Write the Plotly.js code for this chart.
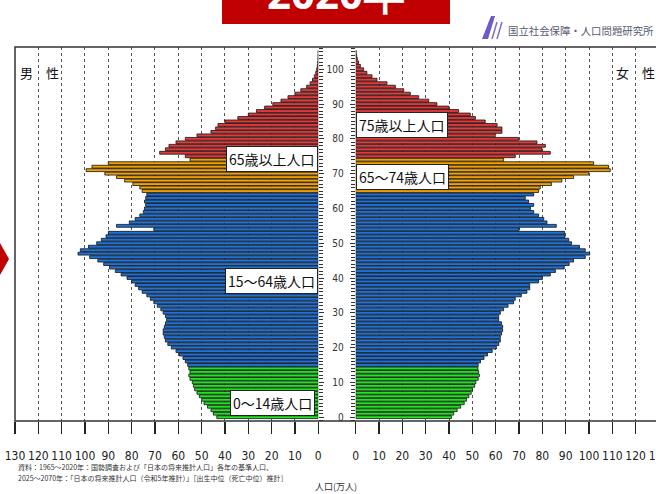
<!DOCTYPE html>
<html>
<head>
<meta charset="utf-8">
<script src="https://cdn.plot.ly/plotly-3.0.1.min.js"></script>
<style>
html,body{margin:0;padding:0;overflow:hidden;background:#fff;}
#chart{width:664px;height:494px;}
</style>
</head>
<body>
<div id="chart"></div>
<script>
// ---- data (万人) ----
const ages = [0,1,2,3,4,5,6,7,8,9,10,11,12,13,14,15,16,17,18,19,20,21,22,23,24,25,26,27,28,29,
30,31,32,33,34,35,36,37,38,39,40,41,42,43,44,45,46,47,48,49,50,51,52,53,54,55,56,57,58,59,
60,61,62,63,64,65,66,67,68,69,70,71,72,73,74,75,76,77,78,79,80,81,82,83,84,85,86,87,88,89,
90,91,92,93,94,95,96,97,98,99,100,101,102,103,104,105];

const male = [
43.5,45,46,47.5,49,50,51,52,53,53.5,
54,55,55.5,55,55.5,56,57,58,59.5,61,
63,64.5,65.5,66,66.5,66.5,66,65.5,65,65.5,
66.5,67.5,69,70.5,72,73.5,75.5,77,78.5,80,
82,84.5,87,89.5,92,94.5,98,103,102,98.5,
95,93,91,90,70.5,86.5,81,78.5,76.5,75,
74.5,74,74.5,74,73.5,75.5,76.5,79.5,83,86.5,
91.5,99.5,97,90,55,57,68,65.5,64,61,
57,52,46,44,43,40,34.5,30,26.5,23,
19.5,16,13,10,7.5,5,3.5,2.5,1.7,1.1,
0.7,0.4,0.25,0.15,0.1,0.05];

const female = [
41,42,43.5,45,46.5,47.5,48.5,49.5,50,51,
51.5,52.5,53,52.7,52.4,52.5,53.5,55,56.5,58.5,
60.3,61.3,62,62,62.5,63,63,62.5,61.3,61.3,
62,63.4,65.3,67.7,68.4,71,73.4,74.6,74.6,78.4,
80,83.4,85.6,89.4,91.5,93.4,98.4,100.3,98.4,95.9,
92.5,91.3,89.7,89.5,70,86,82,80.6,78.4,76.3,
74.9,76.3,74.1,72.7,76.3,78.4,79.1,83.9,88.4,93.4,
99.9,109.1,108.4,102,63.4,68.4,83.4,79.8,81.3,77.7,
69.8,59.8,62.7,62.7,60.6,55.5,51.3,49.1,44.1,39.9,
34.8,31.3,27,23.4,20.6,17,13.4,9.1,7,4.8,
3.4,2.0,1.2,0.7,0.4,0.2];

const popTicks = [0,10,20,30,40,50,60,70,80,90,100,110,120,130];
const gridTicks = [10,20,30,40,50,60,70,80,90,100,110,120];
const ageTicks = [0,10,20,30,40,50,60,70,80,90,100];

const groupLabels = ['0～14歳人口','15～64歳人口','65歳以上人口','75歳以上人口','65～74歳人口'];
const sexLabels = ['男　性','女　性'];
const titleText = '2020年';
const orgName = '国立社会保障・人口問題研究所';
const notes = ['資料：1965～2020年：国勢調査および「日本の将来推計人口」各年の基準人口、',
               '2025～2070年：「日本の将来推計人口（令和5年推計）」［出生中位（死亡中位）推計］'];
const xTitle = '人口(万人)';

// ---- styling ----
const W = 664, H = 494;
const px = x => x / W;
const py = y => 1 - y / H;
const colorFor = a => a < 15 ? '#22E022' : (a < 65 ? '#1F72D8' : (a < 75 ? '#F2A100' : '#E23A3A'));
const colors = ages.map(colorFor);
const narrow = 'Liberation Sans Narrow, DejaVu Sans Condensed, Arial Narrow, sans-serif';
const jp = 'Noto Sans CJK JP, sans-serif';

const traces = [
  {type:'bar', orientation:'h', y:ages, x:male, xaxis:'x', yaxis:'y',
   marker:{color:colors, line:{color:'#111', width:0.8}}, hoverinfo:'none'},
  {type:'bar', orientation:'h', y:ages, x:female, xaxis:'x2', yaxis:'y2',
   marker:{color:colors, line:{color:'#111', width:0.8}}, hoverinfo:'none'}
];

const yr = [-1.1, 106.4];
const ydom = [py(421), py(47)];
const xCommon = {
  tickmode:'array', tickvals:popTicks, ticktext:popTicks.map(String),
  ticks:'outside', ticklen:12, tickwidth:1.5, tickcolor:'#222',
  ticklabelstandoff:12, ticklabeloverflow:'allow',
  tickfont:{family:narrow, size:12, color:'#222'},
  showgrid:false, zeroline:false, showline:false,
  minor:{tickmode:'array', tickvals:gridTicks, showgrid:true, griddash:'dot',
         gridcolor:'#555', gridwidth:1, ticks:''},
  fixedrange:true
};
const yCommon = {
  range:yr, tickmode:'array', tickvals:ageTicks, ticks:'outside', ticklen:5, tickwidth:1,
  tickcolor:'#333', showgrid:false, zeroline:false, showline:false,
  minor:{dtick:1, tick0:0, ticks:'outside', ticklen:4, tickcolor:'#333', tickwidth:1},
  fixedrange:true
};

const layout = {
  width:W, height:H,
  margin:{l:0, r:0, t:0, b:0},
  paper_bgcolor:'#fff', plot_bgcolor:'rgba(0,0,0,0)',
  showlegend:false, bargap:0.18,
  xaxis:Object.assign({}, xCommon, {domain:[px(15), px(318.3)], range:[130,0], anchor:'y'}),
  xaxis2:Object.assign({}, xCommon, {domain:[px(355.7), px(659)], range:[0,130], anchor:'y2'}),
  yaxis:Object.assign({}, yCommon, {domain:ydom, anchor:'x', side:'right', showticklabels:false}),
  yaxis2:Object.assign({}, yCommon, {domain:ydom, anchor:'x2', side:'left', showticklabels:true,
     ticklabelstandoff:4, tickfont:{family:narrow, size:10, color:'#333'}}),
  shapes:[
    {type:'rect', xref:'paper', yref:'paper', x0:px(15), x1:px(659), y0:py(421), y1:py(47),
     line:{color:'#333', width:1.5}, layer:'above'},
    {type:'rect', xref:'paper', yref:'paper', x0:px(222), x1:px(450), y0:py(24), y1:py(-5),
     fillcolor:'#C00000', line:{width:0}},
    {type:'path', xref:'paper', yref:'paper',
     path:`M ${px(0)},${py(243)} L ${px(9)},${py(259)} L ${px(0)},${py(275)} Z`,
     fillcolor:'#C00000', line:{width:0}},
    {type:'path', xref:'paper', yref:'paper',
     path:`M ${px(482)},${py(39)} L ${px(491)},${py(16)} L ${px(495)},${py(16)} L ${px(488)},${py(39)} Z`,
     fillcolor:'#6B5BC8', line:{width:0}},
    {type:'line', xref:'paper', yref:'paper', x0:px(492), y0:py(39), x1:px(497), y1:py(22),
     line:{color:'#7B6FD0', width:1.5}},
    {type:'line', xref:'paper', yref:'paper', x0:px(497), y0:py(39), x1:px(502), y1:py(22),
     line:{color:'#7B6FD0', width:1.5}}
  ],
  annotations:[
    {xref:'paper', yref:'paper', x:px(336), y:py(-8), text:'<b>'+titleText+'</b>', showarrow:false,
     xanchor:'center', yanchor:'middle', font:{family:'Noto Sans, sans-serif', size:42, color:'#fff'}},
    {xref:'paper', yref:'paper', x:px(506), y:py(30), text:orgName, showarrow:false,
     xanchor:'left', yanchor:'middle', font:{family:jp, size:10.4, color:'#555a70'}},
    {xref:'paper', yref:'paper', x:px(39), y:py(72), text:sexLabels[0], showarrow:false,
     xanchor:'center', yanchor:'middle', font:{family:jp, size:13, color:'#111'}},
    {xref:'paper', yref:'paper', x:px(635), y:py(72), text:sexLabels[1], showarrow:false,
     xanchor:'center', yanchor:'middle', font:{family:jp, size:13, color:'#111'}},
    {xref:'paper', yref:'paper', x:px(272), y:py(403), text:groupLabels[0], showarrow:false,
     xanchor:'center', yanchor:'middle', bgcolor:'#fff', bordercolor:'#222', borderwidth:1, borderpad:2,
     font:{family:jp, size:14, color:'#111'}},
    {xref:'paper', yref:'paper', x:px(271), y:py(281), text:groupLabels[1], showarrow:false,
     xanchor:'center', yanchor:'middle', bgcolor:'#fff', bordercolor:'#222', borderwidth:1, borderpad:2,
     font:{family:jp, size:14, color:'#111'}},
    {xref:'paper', yref:'paper', x:px(272), y:py(159), text:groupLabels[2], showarrow:false,
     xanchor:'center', yanchor:'middle', bgcolor:'#fff', bordercolor:'#222', borderwidth:1, borderpad:2,
     font:{family:jp, size:14, color:'#111'}},
    {xref:'paper', yref:'paper', x:px(402), y:py(125), text:groupLabels[3], showarrow:false,
     xanchor:'center', yanchor:'middle', bgcolor:'#fff', bordercolor:'#222', borderwidth:1, borderpad:2,
     font:{family:jp, size:14, color:'#111'}},
    {xref:'paper', yref:'paper', x:px(402), y:py(177), text:groupLabels[4], showarrow:false,
     xanchor:'center', yanchor:'middle', bgcolor:'#fff', bordercolor:'#222', borderwidth:1, borderpad:2,
     font:{family:jp, size:14, color:'#111'}},
    {xref:'paper', yref:'paper', x:px(16), y:py(467), text:notes[0], showarrow:false,
     xanchor:'left', yanchor:'middle', font:{family:jp, size:7, color:'#333'}},
    {xref:'paper', yref:'paper', x:px(16), y:py(478), text:notes[1], showarrow:false,
     xanchor:'left', yanchor:'middle', font:{family:jp, size:7, color:'#333'}},
    {xref:'paper', yref:'paper', x:px(336), y:py(486.5), text:xTitle, showarrow:false,
     xanchor:'center', yanchor:'middle', font:{family:jp, size:9, color:'#333'}}
  ]
};

Plotly.newPlot('chart', traces, layout, {staticPlot:true, displayModeBar:false});
</script>
</body>
</html>
